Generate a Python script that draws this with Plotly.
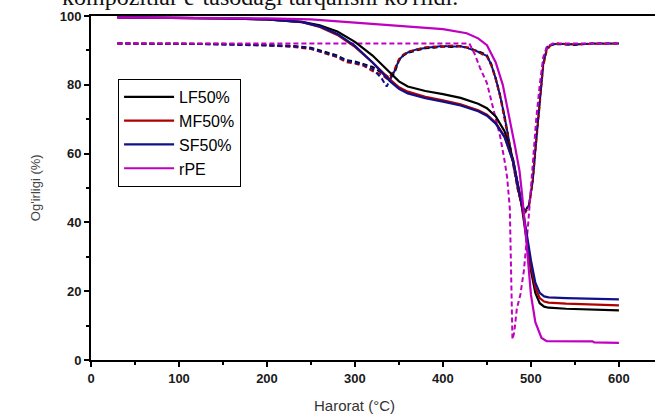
import plotly.graph_objects as go

# ---- TGA (solid) data ----
T_tga = [30, 100, 150, 200, 240, 260, 280, 300, 320, 340, 350, 360, 380, 400, 420, 440, 450,
         460, 470, 480, 485, 490, 495, 500, 505, 510, 515, 520, 540, 560, 580, 600]
lf50 = [99.6, 99.5, 99.3, 99.0, 98.3, 97.3, 95.5, 92.5, 88.5, 83.5, 81.0, 79.5, 78.2, 77.3, 76.2, 74.5, 73.2,
        70.8, 66.5, 58.0, 51.0, 44.0, 35.0, 26.0, 19.5, 16.5, 15.5, 15.2, 14.9, 14.7, 14.5, 14.4]
mf50 = [99.6, 99.5, 99.3, 99.0, 98.2, 96.8, 94.5, 91.0, 86.5, 81.5, 79.3, 78.0, 76.5, 75.5, 74.3, 72.6, 71.3,
        69.0, 65.0, 57.5, 51.0, 44.5, 36.0, 27.5, 21.0, 18.0, 17.0, 16.7, 16.4, 16.2, 16.0, 15.9]
sf50 = [99.6, 99.5, 99.3, 99.0, 98.2, 97.0, 94.8, 91.3, 86.5, 81.0, 78.8, 77.5, 76.1, 75.1, 74.0, 72.3, 71.0,
        68.7, 64.8, 57.5, 51.5, 45.0, 37.0, 29.0, 22.5, 19.5, 18.5, 18.2, 18.0, 17.8, 17.7, 17.6]

T_rpe = [30, 100, 200, 250, 300, 350, 400, 427, 440, 450, 460, 468, 476, 482, 487, 490, 495,
         500, 505, 512, 518, 540, 570, 572, 600]
rpe = [99.6, 99.5, 99.3, 99.0, 98.0, 97.2, 96.2, 95.0, 93.5, 91.5, 86.5, 80.0, 70.0, 62.0, 55.0, 48.0, 34.0,
       19.0, 11.0, 6.4, 5.5, 5.4, 5.4, 5.1, 5.0]

# ---- DTG (dashed) data ----
T_dtg = [30, 60, 100, 150, 200, 230, 250, 260, 270, 280, 290, 300, 310, 320, 330, 336, 340, 345, 350,
         355, 360, 370, 380, 390, 400, 410, 420, 430, 440, 450, 455, 460, 465, 470, 475, 480, 485,
         490, 494, 498, 502, 506, 510, 514, 518, 522, 530, 550, 570, 600]
lf_d = [92.0, 92.0, 92.0, 91.8, 91.6, 91.3, 90.8, 90.0, 89.4, 88.5, 87.2, 86.8, 86.0, 85.2, 83.5, 82.5, 82.0, 83.5, 87.0,
        88.5, 89.3, 90.0, 90.6, 90.8, 91.2, 91.0, 91.3, 90.6, 89.8, 88.6, 86.0, 82.0, 77.0, 71.0, 64.0, 57.0, 50.0,
        45.0, 43.5, 45.5, 52.0, 64.0, 76.0, 86.0, 90.5, 91.5, 91.8, 91.6, 92.0, 92.0]
mf_d = [92.0, 92.0, 91.9, 91.9, 91.5, 91.0, 90.4, 89.6, 88.8, 88.0, 86.6, 86.2, 85.5, 84.0, 83.0, 81.8, 82.5, 84.5, 87.5,
        88.8, 89.6, 90.2, 90.9, 91.1, 91.0, 91.4, 91.0, 90.8, 89.5, 88.2, 85.5, 81.5, 76.5, 70.5, 63.5, 56.5, 49.5,
        44.5, 43.0, 45.0, 51.5, 63.0, 75.5, 85.5, 90.0, 91.4, 92.0, 91.8, 91.9, 92.0]
sf_d = [92.0, 91.9, 92.0, 91.7, 91.5, 91.2, 90.6, 89.8, 89.0, 88.2, 87.0, 86.4, 85.8, 84.6, 82.0, 79.5, 81.5, 84.0, 87.2,
        88.6, 89.4, 90.3, 90.7, 91.0, 91.3, 91.1, 91.2, 90.5, 89.6, 88.4, 85.8, 81.8, 76.8, 70.8, 63.8, 56.8, 50.0,
        44.8, 43.2, 45.2, 52.5, 64.5, 76.5, 86.5, 90.8, 91.6, 91.9, 91.7, 92.0, 92.0]

T_rpe_d = [30, 100, 200, 300, 400, 430, 436, 442, 450, 457, 465, 470, 473, 476, 477, 478, 479, 481, 484,
           488, 492, 497, 502, 506, 510, 514, 518, 525, 600]
rpe_d = [92.0, 92.0, 92.0, 92.0, 92.0, 92.0, 89.0, 85.0, 80.5, 73.5, 65.0, 58.0, 53.0, 44.0, 33.0, 20.0, 6.0, 8.0, 15.0,
         19.0, 26.0, 40.0, 56.0, 70.0, 80.0, 88.0, 91.0, 92.0, 92.0]

names = ["LF50%", "MF50%", "SF50%", "rPE"]
colors = ["#000000", "#b00000", "#10108a", "#c000c0"]

x_ticks = [0, 100, 200, 300, 400, 500, 600]
x_minor = [50, 150, 250, 350, 450, 550]
y_ticks = [0, 20, 40, 60, 80, 100]
y_minor = [10, 30, 50, 70, 90]

fig = go.Figure()

# dashed DTG curves
for tx, ys, c in [(T_dtg, lf_d, colors[0]), (T_dtg, mf_d, colors[1]), (T_dtg, sf_d, colors[2]),
                  (T_rpe_d, rpe_d, colors[3])]:
    fig.add_trace(go.Scatter(x=tx, y=ys, mode="lines", showlegend=False, hoverinfo="skip",
                             line=dict(color=c, width=2, dash="5px,3px")))

# solid TGA curves
for tx, ys, n, c in [(T_tga, lf50, names[0], colors[0]), (T_tga, mf50, names[1], colors[1]),
                     (T_tga, sf50, names[2], colors[2]), (T_rpe, rpe, names[3], colors[3])]:
    fig.add_trace(go.Scatter(x=tx, y=ys, mode="lines", name=n, line=dict(color=c, width=2.2)))

axis_font = dict(family="Liberation Sans, Arial", size=13, color="#1a1a1a", weight="bold")

fig.update_layout(
    width=655, height=414,
    margin=dict(l=91, r=0, t=16, b=54),
    paper_bgcolor="white", plot_bgcolor="white",
    showlegend=True,
    legend=dict(x=0.048, y=0.817, xanchor="left", yanchor="top",
                bordercolor="black", borderwidth=1, bgcolor="white",
                font=dict(family="Liberation Sans, Arial", size=16, color="black"),
                itemwidth=50, tracegroupgap=0),
    xaxis=dict(range=[0, 641], tickmode="array", tickvals=x_ticks,
               ticks="outside", ticklen=5, tickwidth=2, tickcolor="black",
               showline=True, linecolor="black", linewidth=2, mirror=True,
               showgrid=False, zeroline=False, tickfont=axis_font,
               minor=dict(tickvals=x_minor, ticks="outside", ticklen=3,
                          tickwidth=2, tickcolor="black", showgrid=False)),
    yaxis=dict(range=[0, 100], tickmode="array", tickvals=y_ticks,
               ticks="outside", ticklen=5, tickwidth=2, tickcolor="black",
               showline=True, linecolor="black", linewidth=2,
               showgrid=False, zeroline=False, tickfont=axis_font,
               minor=dict(tickvals=y_minor, ticks="outside", ticklen=3,
                          tickwidth=2, tickcolor="black", showgrid=False)),
    annotations=[
        dict(text="Harorat (°C)", x=300, xref="x", y=-0.131, yref="paper",
             xanchor="center", yanchor="middle", showarrow=False,
             font=dict(family="Liberation Sans, Arial", size=15, color="#333333")),
        dict(text="Og'irligi (%)", x=-0.099, xref="paper", y=0.5, yref="paper",
             xanchor="center", yanchor="middle", textangle=-90, showarrow=False,
             font=dict(family="Liberation Sans, Arial", size=13, color="#444444")),
        dict(text="kompozitlar e-tasodagi tarqalishi ko'rildi.", x=0.30, xref="paper",
             y=1.012, yref="paper", xanchor="center", yanchor="bottom", showarrow=False,
             font=dict(family="Liberation Serif, Times New Roman", size=24, color="#111111")),
    ],
)

fig.write_html("out.html")
